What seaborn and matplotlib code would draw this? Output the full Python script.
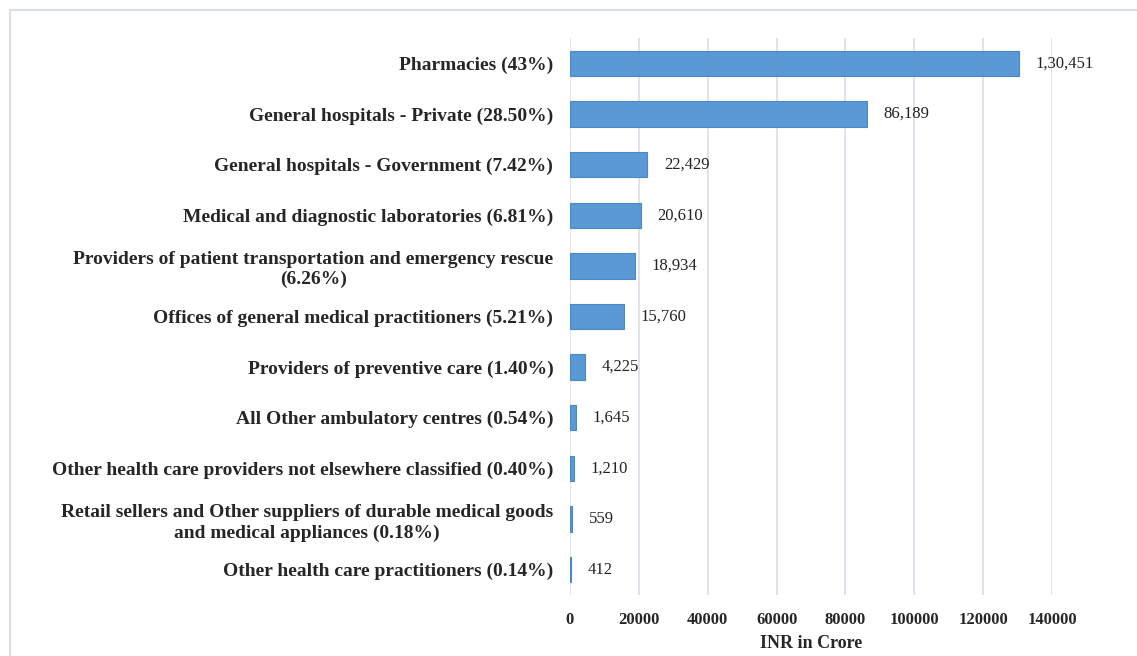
import matplotlib
matplotlib.use('Agg')
import pandas as pd
import seaborn as sns
import matplotlib.pyplot as plt
from matplotlib.patches import Rectangle

categories = [
    'Pharmacies (43%)',
    'General hospitals - Private (28.50%)',
    'General hospitals - Government (7.42%)',
    'Medical and diagnostic laboratories (6.81%)',
    'Providers of patient transportation and emergency rescue\n(6.26%)',
    'Offices of general medical practitioners (5.21%)',
    'Providers of preventive care (1.40%)',
    'All Other ambulatory centres (0.54%)',
    'Other health care providers not elsewhere classified (0.40%)',
    'Retail sellers and Other suppliers of durable medical goods\nand medical appliances (0.18%)',
    'Other health care practitioners (0.14%)',
]
values = [130451, 86189, 22429, 20610, 18934, 15760, 4225, 1645, 1210, 559, 412]
value_labels = ['1,30,451', '86,189', '22,429', '20,610', '18,934', '15,760',
                '4,225', '1,645', '1,210', '559', '412']
x_ticks = [0, 20000, 40000, 60000, 80000, 100000, 120000, 140000]

df = pd.DataFrame({'category': categories, 'value': values})

sns.set_style('white')
plt.rcParams['font.family'] = ['Liberation Serif', 'DejaVu Serif']

fig = plt.figure(figsize=(11.37, 6.56), dpi=100)
# plot area: x 570..1052 px, y 38..595 px
ax = fig.add_axes([570 / 1137, 1 - 595 / 656, 482 / 1137, 557 / 656])

sns.barplot(data=df, y='category', x='value', orient='h', color='#5a98d6',
            edgecolor='#4a89c6', linewidth=0.8, width=0.5, saturation=1, ax=ax)

for i, (v, lab) in enumerate(zip(values, value_labels)):
    ax.annotate(lab, (v, i), xytext=(12, 0), textcoords='offset points',
                va='center', ha='left', fontsize=12, color='#222222',
                annotation_clip=False)

ax.set_xlim(0, 140000)
ax.set_ylim(10.5, -0.5)
ax.set_xticks(x_ticks)
ax.set_xticklabels([str(t) for t in x_ticks], fontsize=12, fontweight='bold')
for lbl in ax.get_yticklabels():
    lbl.set_fontweight('bold')
    lbl.set_fontsize(14)
    lbl.set_multialignment('center')
    lbl.set_linespacing(1.25)
ax.tick_params(axis='x', length=0, pad=12)
ax.tick_params(axis='y', length=0, pad=12)
ax.xaxis.grid(True, color='#d9dee7', linewidth=1.2)
ax.set_axisbelow(True)
for s in ax.spines.values():
    s.set_visible(False)
ax.set_ylabel('')
ax.set_xlabel('INR in Crore', fontsize=13, fontweight='bold', labelpad=5)

fig.patches.append(Rectangle((10 / 1137, -0.01), 1.02, 1 - 10 / 656 + 0.01,
                             transform=fig.transFigure, fill=False,
                             edgecolor='#d9dee7', linewidth=1.5))

fig.savefig('out.png', dpi=100)
